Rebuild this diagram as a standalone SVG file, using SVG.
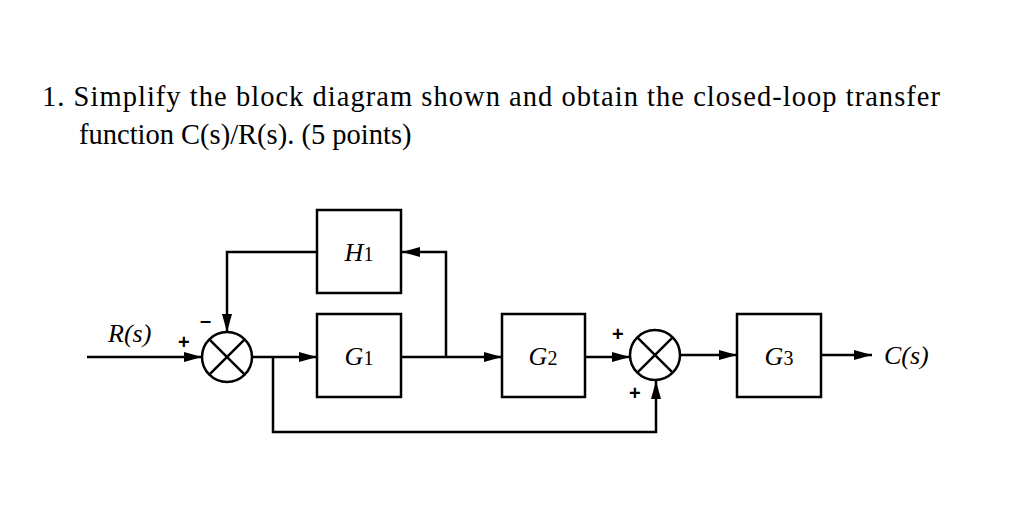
<svg xmlns="http://www.w3.org/2000/svg" width="1024" height="517" viewBox="0 0 1024 517">
<style>
.t{font-family:"Liberation Serif",serif;font-size:28.5px;fill:#000}
.l{font-family:"Liberation Serif",serif;font-style:italic;font-size:26px;fill:#000}
.s{font-family:"Liberation Sans",sans-serif;font-size:20px;font-weight:bold;fill:#000}
.b{fill:#fff;stroke:#000;stroke-width:2.5}
.c{fill:none;stroke:#000;stroke-width:2.5}
</style>
<defs><marker id="a" viewBox="0 0 18 10" refX="18" refY="5" markerWidth="18" markerHeight="10" markerUnits="userSpaceOnUse" orient="auto"><path d="M0,0L18,5L0,10z" fill="#000"/></marker></defs>
<rect width="1024" height="517" fill="#fff"/>
<text class="t" x="42" y="106" textLength="898" lengthAdjust="spacing">1. Simplify the block diagram shown and obtain the closed-loop transfer</text>
<text class="t" x="79" y="144">function C(s)/R(s). (5 points)</text>
<g id="connectors" class="c">
<path d="M87,357H202" marker-end="url(#a)"/>
<path d="M252,357H317" marker-end="url(#a)"/>
<path d="M317,252H227V332" marker-end="url(#a)"/>
<path d="M401,357H502" marker-end="url(#a)"/>
<path d="M446,357V252H402" marker-end="url(#a)"/>
<path d="M585,357H630" marker-end="url(#a)"/>
<path d="M273,357V432H656V381" marker-end="url(#a)"/>
<path d="M680,355H737" marker-end="url(#a)"/>
<path d="M821,355H872" marker-end="url(#a)"/>
</g>
<g id="sum1"><circle class="b" cx="227" cy="357" r="25"/><path class="c" d="M209.3,339.3L244.7,374.7M244.7,339.3L209.3,374.7"/>
<text class="s" x="178" y="349">+</text><text class="s" x="200" y="327">–</text></g>
<g id="sum2"><circle class="b" cx="655" cy="355" r="25"/><path class="c" d="M637.3,337.3L672.7,372.7M672.7,337.3L637.3,372.7"/>
<text class="s" x="612" y="341">+</text><text class="s" x="629" y="400">+</text></g>
<g id="H1"><rect class="b" x="317" y="210" width="84" height="83"/><text class="l" x="359" y="261" text-anchor="middle">H<tspan font-size="20" font-style="normal">1</tspan></text></g>
<g id="G1"><rect class="b" x="317" y="314" width="84" height="83"/><text class="l" x="359" y="365" text-anchor="middle">G<tspan font-size="20" font-style="normal">1</tspan></text></g>
<g id="G2"><rect class="b" x="502" y="314" width="83" height="83"/><text class="l" x="543" y="365" text-anchor="middle">G<tspan font-size="20" font-style="normal">2</tspan></text></g>
<g id="G3"><rect class="b" x="737" y="314" width="84" height="83"/><text class="l" x="779" y="365" text-anchor="middle">G<tspan font-size="20" font-style="normal">3</tspan></text></g>
<text class="l" x="108" y="342">R(s)</text>
<text class="l" x="884" y="364">C(s)</text>
</svg>
